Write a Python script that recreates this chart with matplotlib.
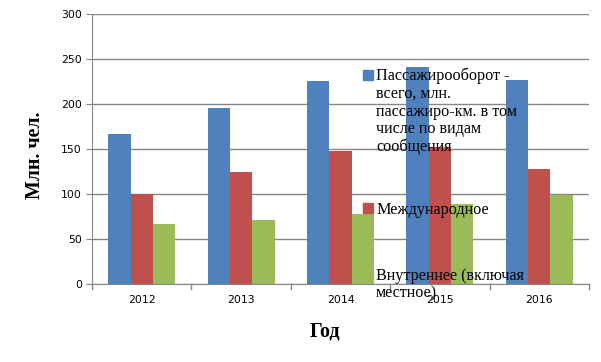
import numpy as np
import matplotlib.pyplot as plt
from matplotlib.patches import Rectangle

years = ["2012", "2013", "2014", "2015", "2016"]
total = [167, 196, 226, 241, 227]
international = [100, 125, 148, 152, 128]
domestic = [67, 71, 78, 89, 99]

labels = [
    "Пассажирооборот -\nвсего, млн.\nпассажиро-км. в том\nчисле по видам\nсообщения",
    "Международное",
    "Внутреннее (включая\nместное)",
]
colors = ["#4f81bd", "#c0504d", "#9bbb59"]

W, H = 601, 362
fig = plt.figure(figsize=(W / 100, H / 100), dpi=100)
ax = fig.add_axes([92 / W, 1 - 284 / H, (589 - 92) / W, (284 - 14) / H])

x = np.arange(len(years))
bw = 0.225
for i, (vals, c) in enumerate(zip([total, international, domestic], colors)):
    ax.bar(x + (i - 1) * bw, vals, width=bw, color=c, zorder=3)

ax.set_xlim(-0.5, len(years) - 0.5)
ax.set_ylim(0, 300)
ax.set_yticks(range(0, 301, 50))
ax.yaxis.grid(True, color="#868686", lw=1, zorder=0)
ax.set_xticks(x)
ax.set_xticklabels(years)
ax.tick_params(axis="x", length=0, pad=8, labelsize=7.8)
ax.tick_params(axis="y", length=4.3, color="#868686", pad=3, labelsize=7.8)
for b in np.arange(-0.5, len(years), 1.0):
    ax.plot([b, b], [0, -5], color="#868686", lw=1, clip_on=False, zorder=4)
for s in ["top", "right"]:
    ax.spines[s].set_visible(False)
for s in ["left", "bottom"]:
    ax.spines[s].set_color("#868686")
    ax.spines[s].set_zorder(4)

fig.text(35 / W, 1 - 155 / H, "Млн. чел.", rotation=90, ha="center", va="center",
         family="Liberation Serif", fontweight="bold", fontsize=14.3)
fig.text(325 / W, 1 - 331 / H, "Год", ha="center", va="center",
         family="Liberation Serif", fontweight="bold", fontsize=14.5)

# legend drawn by hand, matching the original's loose layout
leg_y = [70, 203, 269]
text_y = [72, 206, 272]
for y0, ty, lab, c in zip(leg_y, text_y, labels, colors):
    fig.patches.append(Rectangle((363 / W, 1 - (y0 + 10) / H), 10 / W, 10 / H,
                                 color=c, transform=fig.transFigure, figure=fig, zorder=5))
    fig.text(376 / W, 1 - (ty - 4) / H, lab, ha="left", va="top", linespacing=1.13,
             family="Liberation Serif", fontsize=11.6, zorder=6)

fig.savefig("out.png", dpi=100)
